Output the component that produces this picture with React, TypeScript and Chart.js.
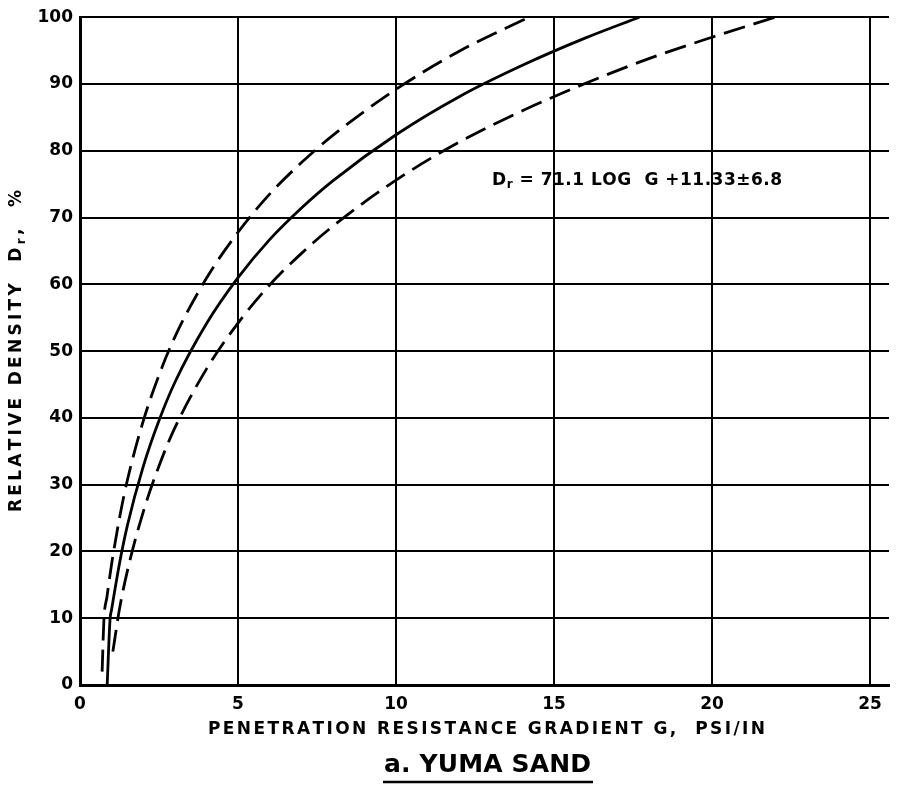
import React, { useEffect, useRef } from "react";
import { Chart, registerables } from "chart.js";

Chart.register(...registerables);

// ---- data ----
const X_TICKS = [0, 5, 10, 15, 20, 25];
const Y_TICKS = [0, 10, 20, 30, 40, 50, 60, 70, 80, 90, 100];

const G_UPPER = [0.7, 0.76, 0.85, 1.0, 1.25, 1.5, 2, 2.5, 3, 4, 5, 6, 7, 8, 10, 12, 14.2];
const DR_UPPER = [2, 10, 13.1, 18.1, 25.0, 30.7, 39.5, 46.4, 52.1, 60.9, 67.8, 73.5, 78.2, 82.3, 89.2, 94.9, 100];

const G_MID = [0.86, 0.95, 1.0, 1.25, 1.5, 2, 2.5, 3, 4, 5, 6, 7, 8, 10, 12, 14, 16, 17.7];
const DR_MID = [0, 9.8, 11.3, 18.2, 23.9, 32.7, 39.6, 45.3, 54.1, 61.0, 66.7, 71.4, 75.5, 82.4, 88.1, 92.8, 96.9, 100];

const G_LOWER = [1.04, 1.25, 1.5, 2, 2.5, 3, 4, 5, 6, 7, 8, 10, 12, 14, 16, 18, 20, 22];
const DR_LOWER = [5, 11.4, 17.1, 25.9, 32.8, 38.5, 47.3, 54.2, 59.9, 64.6, 68.7, 75.6, 81.3, 86.0, 90.1, 93.8, 97.0, 100];

const X_TITLE = "PENETRATION RESISTANCE GRADIENT G,  PSI/IN";
const Y_TITLE_A = "RELATIVE DENSITY  D";
const Y_TITLE_SUB = "r";
const Y_TITLE_B = ",  %";
const EQ_A = "D";
const EQ_SUB = "r";
const EQ_B = " = 71.1 LOG  G +11.33±6.8";
const SUBTITLE = "a. YUMA SAND";
const EQ_POS = { x: 13.04, y: 75.6 };

const X_MIN = 0;
const X_MAX = 25.6;
const Y_MIN = 0;
const Y_MAX = 100;

type Run = { t: string; font: string; dy?: number };

function drawRuns(ctx: CanvasRenderingContext2D, runs: Run[], x0: number, x1: number, y: number) {
  const chars: { c: string; font: string; dy: number; w: number }[] = [];
  for (const r of runs) {
    ctx.font = r.font;
    for (const c of Array.from(r.t)) {
      chars.push({ c, font: r.font, dy: r.dy || 0, w: ctx.measureText(c).width });
    }
  }
  const total = chars.reduce((s, c) => s + c.w, 0);
  const gap = chars.length > 1 ? (x1 - x0 - total) / (chars.length - 1) : 0;
  let x = x0;
  ctx.textAlign = "left";
  ctx.textBaseline = "middle";
  for (const ch of chars) {
    ctx.font = ch.font;
    ctx.fillText(ch.c, x, y + ch.dy);
    x += ch.w + gap;
  }
}

const textPlugin = {
  id: "textPlugin",
  afterDraw(chart: any) {
    const ctx: CanvasRenderingContext2D = chart.ctx;
    const xs = chart.scales.x;
    const ys = chart.scales.y;
    ctx.save();
    ctx.fillStyle = "#000";
    ctx.strokeStyle = "#000";

    // x axis title
    drawRuns(ctx, [{ t: X_TITLE, font: 'bold 17px "DejaVu Sans"' }], 208, 765, 730);

    // y axis title (rotated)
    ctx.save();
    ctx.translate(17, 512);
    ctx.rotate(-Math.PI / 2);
    drawRuns(
      ctx,
      [
        { t: Y_TITLE_A, font: 'bold 17px "DejaVu Sans"' },
        { t: Y_TITLE_SUB, font: 'bold 12px "DejaVu Sans"', dy: 5 },
        { t: Y_TITLE_B, font: 'bold 17px "DejaVu Sans"' },
      ],
      0,
      322,
      0
    );
    ctx.restore();

    // equation annotation
    const ex = xs.getPixelForValue(EQ_POS.x);
    const ey = ys.getPixelForValue(EQ_POS.y);
    drawRuns(
      ctx,
      [
        { t: EQ_A, font: 'bold 17px "DejaVu Sans"' },
        { t: EQ_SUB, font: 'bold 12px "DejaVu Sans"', dy: 5 },
        { t: EQ_B, font: 'bold 17px "DejaVu Sans"' },
      ],
      ex,
      ex + 290,
      ey
    );

    // subtitle with underline
    drawRuns(ctx, [{ t: SUBTITLE, font: 'bold 25px "DejaVu Sans"' }], 384, 591, 765);
    ctx.lineWidth = 2.5;
    ctx.beginPath();
    ctx.moveTo(383, 782);
    ctx.lineTo(593, 782);
    ctx.stroke();

    ctx.restore();
  },
};

function toPoints(xs: number[], ys: number[]) {
  return xs.map((x, i) => ({ x, y: ys[i] }));
}

export default function App() {
  const ref = useRef<HTMLCanvasElement>(null);

  useEffect(() => {
    if (!ref.current) return;
    const lineBase = {
      borderColor: "#000",
      borderWidth: 2.8,
      pointRadius: 0,
      fill: false,
      cubicInterpolationMode: "monotone" as const,
    };
    const chart = new Chart(ref.current, {
      type: "line",
      data: {
        datasets: [
          { ...lineBase, label: "upper", data: toPoints(G_UPPER, DR_UPPER), borderDash: [22, 9] },
          { ...lineBase, label: "mean", data: toPoints(G_MID, DR_MID) },
          { ...lineBase, label: "lower", data: toPoints(G_LOWER, DR_LOWER), borderDash: [22, 9] },
        ],
      },
      options: {
        animation: false,
        responsive: false,
        devicePixelRatio: 1,
        events: [],
        layout: { padding: { left: 0, top: 17, right: 10, bottom: 0 } },
        plugins: {
          legend: { display: false },
          tooltip: { enabled: false },
          title: { display: false },
        },
        scales: {
          x: {
            type: "linear",
            min: X_MIN,
            max: X_MAX,
            afterBuildTicks: (scale: any) => {
              scale.ticks = X_TICKS.map((v) => ({ value: v }));
            },
            afterFit: (scale: any) => {
              scale.height = 103;
            },
            grid: { color: "#000", lineWidth: 2, drawTicks: false },
            border: { display: true, color: "#000", width: 3 },
            ticks: {
              color: "#000",
              padding: 9,
              maxRotation: 0,
              font: { family: "DejaVu Sans", size: 17, weight: "bold" },
            },
          },
          y: {
            type: "linear",
            min: Y_MIN,
            max: Y_MAX,
            afterBuildTicks: (scale: any) => {
              scale.ticks = Y_TICKS.map((v) => ({ value: v }));
            },
            afterFit: (scale: any) => {
              scale.width = 80;
            },
            grid: { color: "#000", lineWidth: 2, drawTicks: false },
            border: { display: true, color: "#000", width: 3 },
            ticks: {
              color: "#000",
              padding: 7,
              font: { family: "DejaVu Sans", size: 17, weight: "bold" },
            },
          },
        },
      },
      plugins: [textPlugin],
    });
    return () => chart.destroy();
  }, []);

  return (
    <div style={{ position: "absolute", left: 0, top: 0, width: 899, height: 788, background: "#fff" }}>
      <canvas ref={ref} width={899} height={788} style={{ width: 899, height: 788, display: "block" }} />
    </div>
  );
}
